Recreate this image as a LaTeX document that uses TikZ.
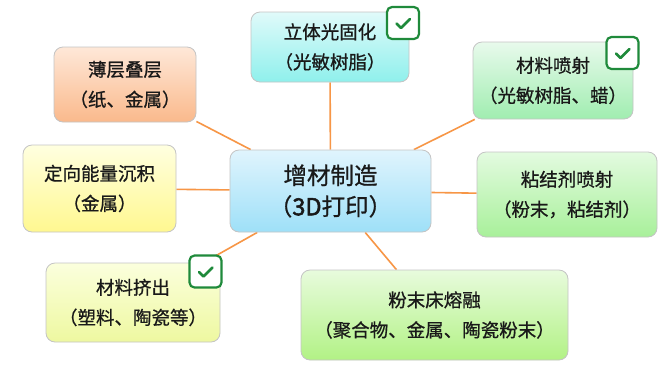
\documentclass[tikz,border=0pt]{standalone}
\usepackage{fontspec}
\setmainfont{Noto Sans CJK SC}[FakeBold=0.8]
\newfontfamily\cjkbold{Noto Sans CJK SC}[FakeBold=2.2]
\usetikzlibrary{backgrounds,calc}
\definecolor{linkc}{HTML}{F79646}
\definecolor{boxborder}{HTML}{C4C4C4}
\definecolor{checkc}{HTML}{1F8A3B}
\tikzset{
  x=1pt, y=-1pt,
  topic/.style={draw=boxborder, line width=0.8pt, rounded corners=9pt, align=center,
     inner sep=0pt, font=\fontsize{18.5}{30}\selectfont, text=black!90},
  maintopic/.style={topic, font=\fontsize{23.5}{31}\selectfont},
  link/.style={draw=linkc, line width=1.6pt},
  checkbox/.style={draw=checkc, fill=white, line width=2.2pt, rounded corners=5pt,
     minimum width=32pt, minimum height=32pt, inner sep=0pt},
  tick/.style={draw=checkc, line width=2.6pt, line cap=round, line join=round}
}
\newcommand{\tickmark}[1]{%
  \draw[tick] ($(#1)+(-6.5,0.5)$) -- ($(#1)+(-2,5)$) -- ($(#1)+(7,-4)$);}
\begin{document}
\begin{tikzpicture}
\useasboundingbox (0,0) rectangle (672,368);

\node[maintopic, minimum width=201pt, minimum height=82pt, top color={rgb,255:red,224;green,244;blue,253}, bottom color={rgb,255:red,158;green,224;blue,248}] (center) at (330.5,191) {增材制造\\（{\cjkbold 3D}打印）};

\node[topic, minimum width=142pt, minimum height=75pt, top color={rgb,255:red,254;green,232;blue,216}, bottom color={rgb,255:red,250;green,185;blue,140}] (thin) at (125,84.5) {薄层叠层\\（纸、金属）};

\node[topic, minimum width=158pt, minimum height=70pt, top color={rgb,255:red,224;green,250;blue,250}, bottom color={rgb,255:red,143;green,240;blue,236}] (sla) at (330,47) {立体光固化\\（光敏树脂）};

\node[topic, minimum width=160pt, minimum height=77pt, top color={rgb,255:red,232;green,250;blue,236}, bottom color={rgb,255:red,160;green,237;blue,176}] (jet) at (553,80.5) {材料喷射\\（光敏树脂、蜡）};

\node[topic, minimum width=153pt, minimum height=87pt, top color={rgb,255:red,255;green,255;blue,224}, bottom color={rgb,255:red,255;green,248;blue,144}] (ded) at (99.5,188.5) {定向能量沉积\\（金属）};

\node[topic, minimum width=180pt, minimum height=85pt, top color={rgb,255:red,227;green,251;blue,224}, bottom color={rgb,255:red,168;green,240;blue,154}] (binder) at (567,194.5) {粘结剂喷射\\（粉末，粘结剂）};

\node[topic, minimum width=174pt, minimum height=79pt, top color={rgb,255:red,251;green,255;blue,221}, bottom color={rgb,255:red,238;green,248;blue,160}] (extr) at (133,302.5) {材料挤出\\（塑料、陶瓷等）};

\node[topic, minimum width=267pt, minimum height=90pt, top color={rgb,255:red,232;green,251;blue,221}, bottom color={rgb,255:red,178;green,242;blue,133}] (pbf) at (434.5,315) {粉末床熔融\\（聚合物、金属、陶瓷粉末）};

\begin{scope}[on background layer]
  \fill[white] (0,0) rectangle (672,368);
  \draw[link] (thin) -- (center);
  \draw[link] (sla) -- (center);
  \draw[link] (jet) -- (center);
  \draw[link] (ded) -- (center);
  \draw[link] (binder) -- (center);
  \draw[link] (extr) -- (center);
  \draw[link] (pbf) -- (center);
\end{scope}

\node[checkbox] (chk1) at (403,23) {};
\tickmark{chk1}
\node[checkbox] (chk2) at (622.5,53) {};
\tickmark{chk2}
\node[checkbox] (chk3) at (205.5,271.5) {};
\tickmark{chk3}
\end{tikzpicture}
\end{document}
